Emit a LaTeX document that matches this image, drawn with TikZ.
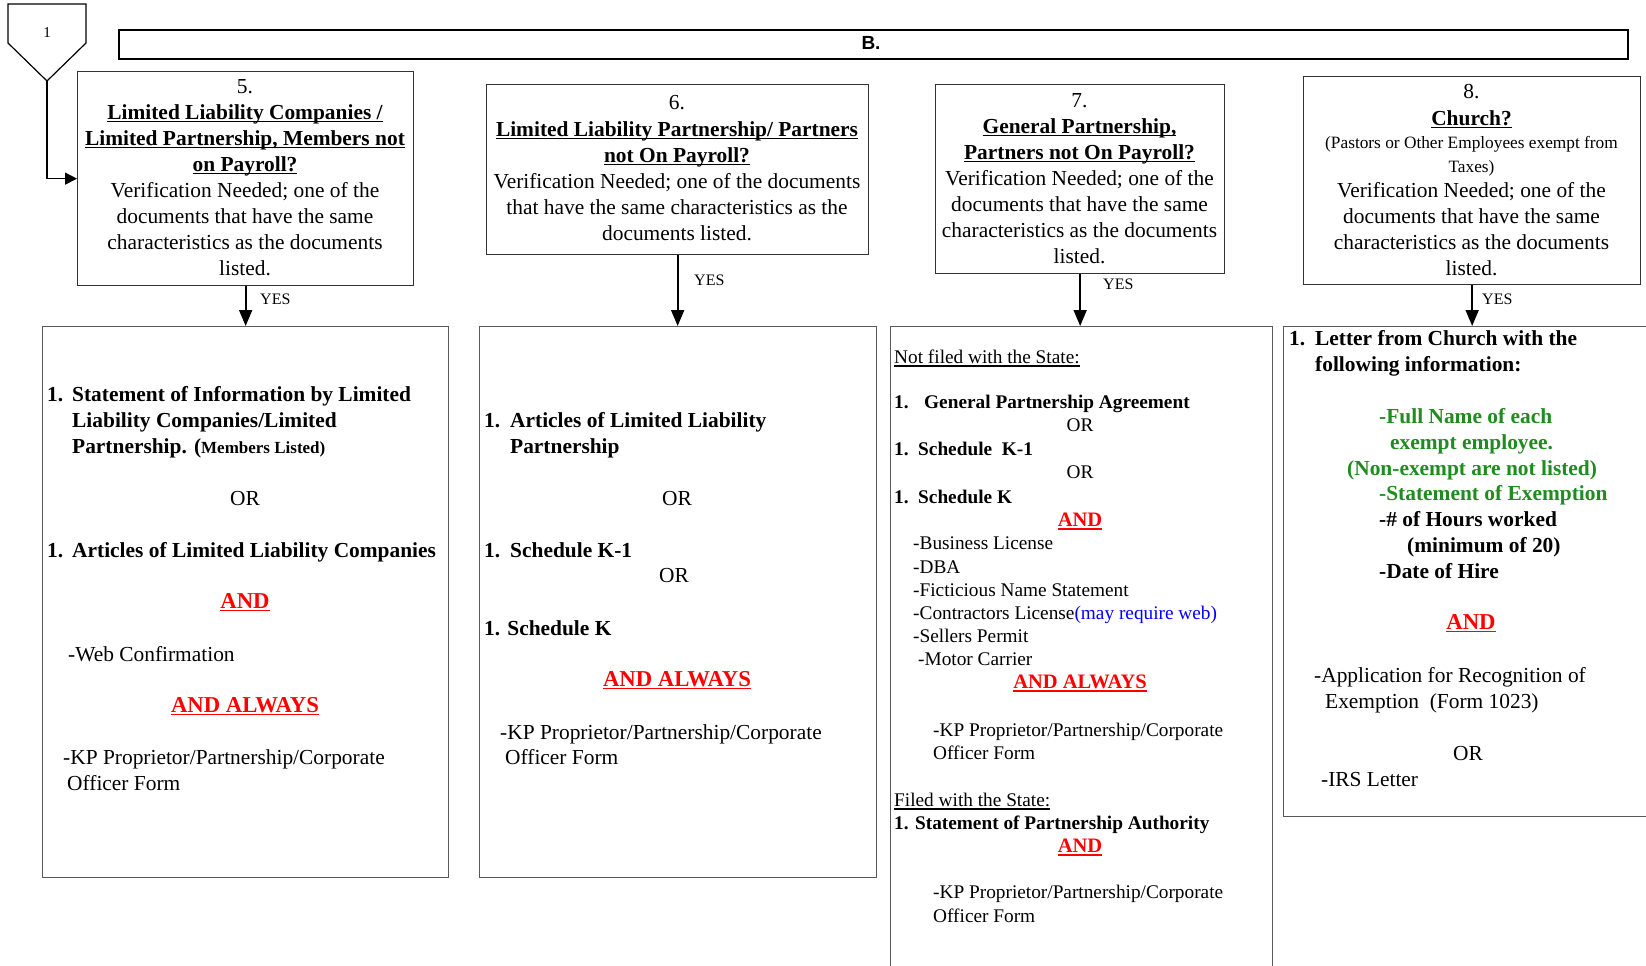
\documentclass[tikz,border=0pt]{standalone}
\usepackage{fontspec}
\setmainfont{Liberation Serif}
\newfontfamily\hdfont{Liberation Sans}
\usetikzlibrary{arrows.meta}
\definecolor{ared}{RGB}{255,0,0}
\definecolor{ablue}{RGB}{0,0,255}
\definecolor{agreen}{RGB}{30,140,30}
\newsavebox\ulbox
\newcommand\uline[1]{\sbox\ulbox{#1}\rlap{\usebox\ulbox}\rule[-3.2pt]{\wd\ulbox}{1.4pt}}
\newcommand\fA{\fontsize{21.4}{26}\selectfont}
\newcommand\fB{\fontsize{19.3}{23}\selectfont}
\newcommand\fC{\fontsize{17.3}{24}\selectfont}
\newcommand\fY{\fontsize{16}{19}\selectfont}
\newcommand\txtC[5][]{\node[lbl,anchor=base,#1] (#2) at (#3,#4) {#5};}
\newcommand\txtL[5][]{\node[lbl,anchor=base west,#1] (#2) at (#3,#4) {#5};}
\newcommand\redA[1]{{\fontsize{22.7}{26}\selectfont\color{ared}\bfseries\uline{#1}}}
\newcommand\redB[1]{{\fontsize{20.5}{23}\selectfont\color{ared}\bfseries\uline{#1}}}
\begin{document}
\begin{tikzpicture}[x=1pt,y=-1pt,
  lbl/.style={inner sep=0pt,font=\fA},
  smallb/.style={font=\fB},
  topbox/.style={draw=black!80,line width=1.3pt,anchor=north west,inner sep=0pt},
  botbox/.style={draw=black!65,line width=1.3pt,anchor=north west,inner sep=0pt},
  yesarrow/.style={line width=1.8pt,-{Triangle[length=16pt,width=13pt]}}]
\useasboundingbox (0,0) rectangle (1646,966);
% pentagon connector
\draw[line width=1.2pt] (8,4) -- (86,4) -- (86,43) -- (47,81) -- (8,43) -- cycle;
\node[inner sep=0pt,anchor=base,font=\fontsize{15}{18}\selectfont] (p1) at (47,38) {1};
\coordinate (ptip) at (47,81);
% header
\node[draw=black,line width=1.8pt,anchor=north west,minimum width=1509pt,minimum height=29pt,inner sep=0pt] (hdr) at (118,29) {};
\node[inner sep=0pt,anchor=base,font=\hdfont\bfseries\fontsize{19}{22}\selectfont] (hdrB) at (871,49) {B.};
% top boxes
\node[topbox,minimum width=336pt,minimum height=214pt] (b5) at (77,71) {};
\node[topbox,minimum width=382pt,minimum height=170pt] (b6) at (486,84) {};
\node[topbox,minimum width=289pt,minimum height=189pt] (b7) at (935,84) {};
\node[topbox,minimum width=337pt,minimum height=208pt] (b8) at (1303,76) {};
% bottom boxes
\node[botbox,minimum width=406pt,minimum height=551pt] (c5) at (42,326) {};
\node[botbox,minimum width=397pt,minimum height=551pt] (c6) at (479,326) {};
\node[botbox,minimum width=382pt,minimum height=680pt] (c7) at (890,326) {};
\node[botbox,minimum width=400pt,minimum height=490pt] (c8) at (1283,326) {};
% connectors
\draw[line width=1.5pt,-{Triangle[length=12pt,width=12pt]}] (ptip) |- (b5.west);
\draw[yesarrow] (b5.south) -- (b5.south |- c5.north);
\draw[yesarrow] (b6.south) -- (b6.south |- c6.north);
\draw[yesarrow] (b7.south) -- (b7.south |- c7.north);
\draw[yesarrow] (b8.south) -- (b8.south |- c8.north);
\txtL[font=\fY]{y5}{260}{304.5}{YES}
\txtL[font=\fY]{y6}{694}{285.5}{YES}
\txtL[font=\fY]{y7}{1103}{289.5}{YES}
\txtL[font=\fY]{y8}{1482}{304.5}{YES}
% box 5 top
\txtC{a1}{245}{93}{5.}
\txtC{a2}{245}{119}{\bfseries\uline{Limited Liability Companies /}}
\txtC{a3}{245}{145}{\bfseries\uline{Limited Partnership, Members not}}
\txtC{a4}{245}{171}{\bfseries\uline{on Payroll?}}
\txtC{a5}{245}{197}{Verification Needed; one of the}
\txtC{a6}{245}{223}{documents that have the same}
\txtC{a7}{245}{249}{characteristics as the documents}
\txtC{a8}{245}{275}{listed.}
% box 6 top
\txtC{b1t}{677}{110}{6.}
\txtC{b2t}{677}{136}{\bfseries\uline{Limited Liability Partnership/ Partners}}
\txtC{b3t}{677}{162}{\bfseries\uline{not On Payroll?}}
\txtC{b4t}{677}{188}{Verification Needed; one of the documents}
\txtC{b5t}{677}{214}{that have the same characteristics as the}
\txtC{b6t}{677}{240}{documents listed.}
% box 7 top
\txtC{d1}{1079.5}{107}{7.}
\txtC{d2}{1079.5}{133}{\bfseries\uline{General Partnership,}}
\txtC{d3}{1079.5}{159}{\bfseries\uline{Partners not On Payroll?}}
\txtC{d4}{1079.5}{185}{Verification Needed; one of the}
\txtC{d5}{1079.5}{211}{documents that have the same}
\txtC{d6}{1079.5}{237}{characteristics as the documents}
\txtC{d7}{1079.5}{263}{listed.}
% box 8 top
\txtC{e1}{1471.5}{99}{8.}
\txtC{e2}{1471.5}{125}{\bfseries\uline{Church?}}
\txtC[font=\fC]{e3}{1471.5}{148}{(Pastors or Other Employees exempt from}
\txtC[font=\fC]{e4}{1471.5}{172}{Taxes)}
\txtC{e5}{1471.5}{197}{Verification Needed; one of the}
\txtC{e6}{1471.5}{223}{documents that have the same}
\txtC{e7}{1471.5}{249}{characteristics as the documents}
\txtC{e8}{1471.5}{275}{listed.}
% bottom box 5
\txtL{f1n}{47}{401}{\bfseries 1.}
\txtL{f1}{72}{401}{\bfseries Statement of Information by Limited}
\txtL{f2}{72}{427}{\bfseries Liability Companies/Limited}
\txtL{f3}{72}{453}{\bfseries Partnership. ({\fontsize{17}{19}\selectfont Members Listed)}}
\txtC{f4}{245}{505}{OR}
\txtL{f5n}{47}{557}{\bfseries 1.}
\txtL{f5}{72}{557}{\bfseries Articles of Limited Liability Companies}
\txtC{f6}{245}{608}{\redA{AND}}
\txtL{f7}{68}{661}{-Web Confirmation}
\txtC{f8}{245}{712}{\redA{AND ALWAYS}}
\txtL{f9}{63}{764}{-KP Proprietor/Partnership/Corporate}
\txtL{f10}{67}{790}{Officer Form}
% bottom box 6
\txtL{g1n}{484}{427}{\bfseries 1.}
\txtL{g1}{510}{427}{\bfseries Articles of Limited Liability}
\txtL{g2}{510}{453}{\bfseries Partnership}
\txtC{g3}{677}{505}{OR}
\txtL{g4n}{484}{557}{\bfseries 1.}
\txtL{g4}{510}{557}{\bfseries Schedule K-1}
\txtC{g5}{674}{582}{OR}
\txtL{g6}{484}{635}{\bfseries 1. Schedule K}
\txtC{g7}{677}{686}{\redA{AND ALWAYS}}
\txtL{g8}{500}{739}{-KP Proprietor/Partnership/Corporate}
\txtL{g9}{505}{764}{Officer Form}
% bottom box 7
\txtL[smallb]{h1}{894}{363.5}{\uline{Not filed with the State:}}
\txtL[smallb]{h2n}{894}{408.5}{\bfseries 1.}
\txtL[smallb]{h2}{924}{408.5}{\bfseries General Partnership Agreement}
\txtC[smallb]{h3}{1080}{431.5}{OR}
\txtL[smallb]{h4n}{894}{455.5}{\bfseries 1.}
\txtL[smallb]{h4}{918}{455.5}{\bfseries Schedule\ \ K-1}
\txtC[smallb]{h5}{1080}{478.5}{OR}
\txtL[smallb]{h6n}{894}{503.5}{\bfseries 1.}
\txtL[smallb]{h6}{918}{503.5}{\bfseries Schedule K}
\txtC[smallb]{h7}{1080}{526.5}{\redB{AND}}
\txtL[smallb]{h8}{913}{549.5}{-Business License}
\txtL[smallb]{h9}{913}{573}{-DBA}
\txtL[smallb]{h10}{913}{596.5}{-Ficticious Name Statement}
\txtL[smallb]{h11}{913}{619.5}{-Contractors License{\color{ablue}(may require web)}}
\txtL[smallb]{h12}{913}{642.5}{-Sellers Permit}
\txtL[smallb]{h13}{918}{665.5}{-Motor Carrier}
\txtC[smallb]{h14}{1080}{688.5}{\redB{AND ALWAYS}}
\txtL[smallb]{h15}{933}{736.5}{-KP Proprietor/Partnership/Corporate}
\txtL[smallb]{h16}{933}{759.5}{Officer Form}
\txtL[smallb]{h17}{894}{806.5}{\uline{Filed with the State:}}
\txtL[smallb]{h18}{894}{829.5}{\bfseries 1. Statement of Partnership Authority}
\txtC[smallb]{h19}{1080}{852.5}{\redB{AND}}
\txtL[smallb]{h20}{933}{898.5}{-KP Proprietor/Partnership/Corporate}
\txtL[smallb]{h21}{933}{922.5}{Officer Form}
% bottom box 8
\txtL{k1n}{1289}{345}{\bfseries 1.}
\txtL{k1}{1315}{345}{\bfseries Letter from Church with the}
\txtL{k2}{1315}{371}{\bfseries following information:}
\txtL{k3}{1379}{423}{\bfseries\color{agreen}-Full Name of each}
\txtL{k4}{1390}{449}{\bfseries\color{agreen}exempt employee.}
\txtL{k5}{1347}{475}{\bfseries\color{agreen}(Non-exempt are not listed)}
\txtL{k6}{1379}{500}{\bfseries\color{agreen}-Statement of Exemption}
\txtL{k7}{1379}{526}{\bfseries -\# of Hours worked}
\txtL{k8}{1407}{552}{\bfseries (minimum of 20)}
\txtL{k9}{1379}{578}{\bfseries -Date of Hire}
\txtC{k10}{1471}{629}{\redA{AND}}
\txtL{k11}{1314}{682}{-Application for Recognition of}
\txtL{k12}{1325}{708}{Exemption\ \ (Form 1023)}
\txtC{k13}{1468}{760}{OR}
\txtL{k14}{1321}{786}{-IRS Letter}
\end{tikzpicture}
\end{document}
